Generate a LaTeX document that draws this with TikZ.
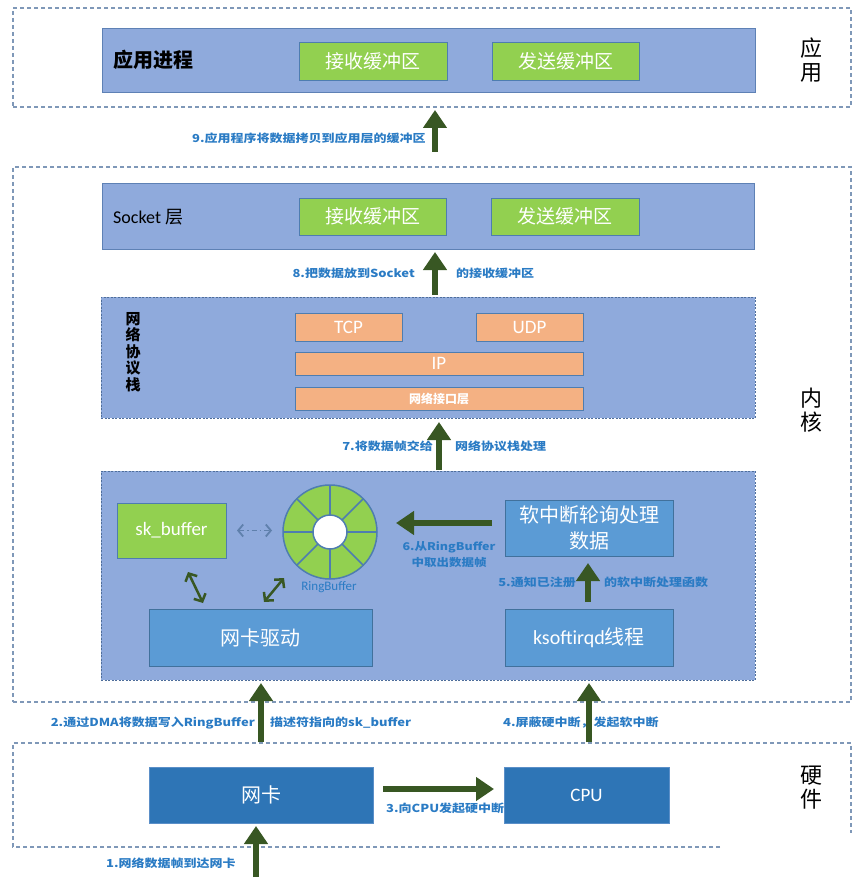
\documentclass[tikz,border=0pt]{standalone}
\usepackage{fontspec}
\setmainfont{Noto Sans CJK SC}
\newfontfamily\lat{Carlito}
\usetikzlibrary{arrows.meta}
\definecolor{lb}{HTML}{8FAADC}
\definecolor{lbd}{HTML}{5E81B5}
\definecolor{grn}{HTML}{92D050}
\definecolor{gbd}{HTML}{4E7DB0}
\definecolor{org}{HTML}{F4B183}
\definecolor{mb}{HTML}{5B9BD5}
\definecolor{mbd}{HTML}{41719C}
\definecolor{db}{HTML}{2E75B6}
\definecolor{dbd}{HTML}{5B8FC8}
\definecolor{dsh}{HTML}{7F98B8}
\definecolor{ddsh}{HTML}{4F6E9B}
\definecolor{ag}{HTML}{385723}
\definecolor{lblue}{HTML}{2A7BC4}
\definecolor{gbl}{HTML}{5F80AC}
\newcommand\sq[1]{\scalebox{1}[0.85]{#1}}
\begin{document}
\begin{tikzpicture}[x=1pt,y=-1pt,
  box/.style={rectangle, inner sep=0pt, outer sep=0pt, anchor=north west, line width=0.8pt},
  layer/.style={box, fill=lb, draw=lbd},
  gbox/.style={box, fill=grn, draw=gbd, text=white, font=\fontsize{19}{19}\selectfont},
  obox/.style={box, fill=org, draw=gbd, text=white},
  mbox/.style={box, fill=mb, draw=mbd, text=white, font=\fontsize{20}{26}\selectfont, align=center},
  hbox/.style={box, fill=db, draw=dbd, text=white},
  zone/.style={draw=dsh, dash pattern=on 4pt off 3pt, line width=1.2pt},
  dzone/.style={layer, draw=ddsh, dash pattern=on 2pt off 1.5pt, line width=1pt},
  big/.style={draw=ag, line width=6pt, -{Triangle[width=23pt,length=18pt]}},
  dbl/.style={draw=ag, line width=2.5pt, {Straight Barb[length=6pt,width=13pt]}-{Straight Barb[length=6pt,width=13pt]}},
  dashdbl/.style={draw=gbl, line width=1.8pt, dash pattern=on 5pt off 3pt on 1.5pt off 3pt, {Straight Barb[length=5pt,width=12pt]}-{Straight Barb[length=5pt,width=12pt]}},
  lbl/.style={text=lblue, font=\bfseries\fontsize{13}{15}\selectfont, inner sep=0pt},
  side/.style={font=\fontsize{22}{24}\selectfont, align=center, inner sep=0pt}
]
\useasboundingbox (0,0) rectangle (865,885);

% ---------- zones ----------
\node[box, zone, minimum width=838pt, minimum height=99pt] (zapp) at (13,8) {};
\node[box, zone, minimum width=838pt, minimum height=535pt] (zker) at (13,167) {};
\coordinate (hw1) at (720,847);
\coordinate (hw2) at (13,847);
\coordinate (hw3) at (13,743);
\coordinate (hw4) at (851,743);
\coordinate (hw5) at (851,833);
\draw[zone] (hw1) -- (hw2) -- (hw3) -- (hw4) -- (hw5);

\node[side] (sapp) at (811,60) {应\\用};
\node[side] (sker) at (811,410) {内\\核};
\node[side] (shw) at (811,788) {硬\\件};

% ---------- application ----------
\node[layer, minimum width=653pt, minimum height=64pt] (app) at (102,28) {};
\node[anchor=west, inner sep=0pt, font=\bfseries\fontsize{20}{20}\selectfont] (appt) at (113,60) {应用进程};
\node[gbox, minimum width=148pt, minimum height=38pt] (arcv) at (299,42) {接收缓冲区};
\node[gbox, minimum width=147pt, minimum height=38pt] (asnd) at (492,42) {发送缓冲区};

% ---------- socket ----------
\node[layer, minimum width=652pt, minimum height=66pt] (sock) at (102,183) {};
\node[anchor=west, inner sep=0pt, font=\fontsize{18}{18}\selectfont] (sockt) at (113,217) {{\lat Socket} 层};
\node[gbox, minimum width=147pt, minimum height=37pt] (srcv) at (299,198) {接收缓冲区};
\node[gbox, minimum width=148pt, minimum height=37pt] (ssnd) at (491,198) {发送缓冲区};

% ---------- protocol stack ----------
\node[dzone, minimum width=654pt, minimum height=121pt] (stack) at (101,297) {};
\node[inner sep=0pt, align=center, font=\bfseries\fontsize{15}{16.5}\selectfont] (stackt) at (133,352) {网\\络\\协\\议\\栈};
\node[obox, minimum width=107pt, minimum height=28pt, font=\lat\fontsize{19}{19}\selectfont] (tcp) at (295,313) {TCP};
\node[obox, minimum width=107pt, minimum height=28pt, font=\lat\fontsize{19}{19}\selectfont] (udp) at (476,313) {UDP};
\node[obox, minimum width=288pt, minimum height=23pt, font=\lat\fontsize{19}{19}\selectfont] (ip) at (295,352) {IP};
\node[obox, minimum width=288pt, minimum height=23pt, font=\bfseries\fontsize{12}{12}\selectfont] (nif) at (295,387) {网络接口层};

% ---------- driver ----------
\node[dzone, minimum width=654pt, minimum height=209pt] (drvz) at (101,471) {};
\node[gbox, minimum width=109pt, minimum height=55pt, font=\lat\fontsize{19}{19}\selectfont] (skb) at (117,503) {sk\_buffer};
\node[circle, inner sep=0pt, outer sep=0pt, minimum size=94pt, fill=grn, draw=gbd, line width=1.5pt] (ring) at (330,532) {};
\node[circle, inner sep=0pt, outer sep=0pt, minimum size=34pt, fill=white, draw=gbd, line width=1.5pt] (ringin) at (330,532) {};
\foreach \a in {0,45,...,315} \draw[gbd, line width=1.5pt] (ringin.\a) -- (ring.\a);
\node[inner sep=0pt, text=lblue, font=\lat\fontsize{13}{13}\selectfont] (ringt) at (329,587) {RingBuffer};
\node[mbox, minimum width=168pt, minimum height=56pt] (soft) at (505,500) {软中断轮询处理\\数据};
\node[mbox, minimum width=168pt, minimum height=57pt] (ksoft) at (505,609) {{\lat ksoftirqd}线程};
\node[mbox, minimum width=223pt, minimum height=57pt] (drv) at (149,609) {网卡驱动};

\draw[dashdbl, shorten <=11pt, shorten >=11pt] (skb.east) -- (skb.east -| ring.west);
\coordinate (d1a) at (188,572);
\coordinate (d1b) at (203,603);
\coordinate (d2a) at (264,602);
\coordinate (d2b) at (284,578);
\draw[dbl] (d1a) -- (d1b);
\draw[dbl] (d2a) -- (d2b);

% ---------- hardware ----------
\node[hbox, minimum width=224pt, minimum height=56pt, font=\fontsize{20}{20}\selectfont] (nic) at (149,767) {网卡};
\node[hbox, minimum width=165pt, minimum height=56pt, font=\lat\fontsize{19}{19}\selectfont] (cpu) at (504,767) {CPU};

% ---------- arrows ----------
\coordinate (t9) at (435,152); \coordinate (h9) at (435,110);
\coordinate (t8) at (435,295); \coordinate (h8) at (435,252);
\coordinate (t7) at (439,470); \coordinate (h7) at (439,422);
\coordinate (t6) at (492,523); \coordinate (h6) at (396,523);
\coordinate (t5) at (588,602); \coordinate (h5) at (588,563);
\coordinate (t2) at (261,742); \coordinate (h2) at (261,683);
\coordinate (t4) at (589,742); \coordinate (h4) at (589,683);
\coordinate (t3) at (383,789); \coordinate (h3) at (494,789);
\coordinate (t1) at (256,877); \coordinate (h1) at (256,826);
\foreach \n in {9,8,7,6,5,2,4,3,1} \draw[big] (t\n) -- (h\n);

% ---------- labels ----------
\node[lbl, anchor=west] (l9) at (192,138) {\sq{9.应用程序将数据拷贝到应用层的缓冲区}};
\node[lbl, anchor=east] (l8a) at (415,273) {\sq{8.把数据放到Socket}};
\node[lbl, anchor=west] (l8b) at (456,273) {\sq{的接收缓冲区}};
\node[lbl, anchor=east] (l7a) at (433,446) {\sq{7.将数据帧交给}};
\node[lbl, anchor=west] (l7b) at (455,446) {\sq{网络协议栈处理}};
\node[lbl, align=center, font=\bfseries\fontsize{12.5}{16}\selectfont] (l6) at (449,555) {\sq{6.从RingBuffer}\\\sq{中取出数据帧}};
\node[lbl, anchor=east] (l5a) at (576,582) {\sq{5.通知已注册}};
\node[lbl, anchor=west] (l5b) at (604,582) {\sq{的软中断处理函数}};
\node[lbl, anchor=east] (l2a) at (255,723) {\sq{2.通过DMA将数据写入RingBuffer}};
\node[lbl, anchor=west] (l2b) at (270,723) {\sq{描述符指向的sk\_buffer}};
\node[lbl, anchor=west] (l4) at (503,723) {\sq{4.屏蔽硬中断，发起软中断}};
\node[lbl, anchor=west] (l3) at (386,808) {\sq{3.向CPU发起硬中断}};
\node[lbl, anchor=west] (l1) at (106,863) {\sq{1.网络数据帧到达网卡}};
\end{tikzpicture}
\end{document}
